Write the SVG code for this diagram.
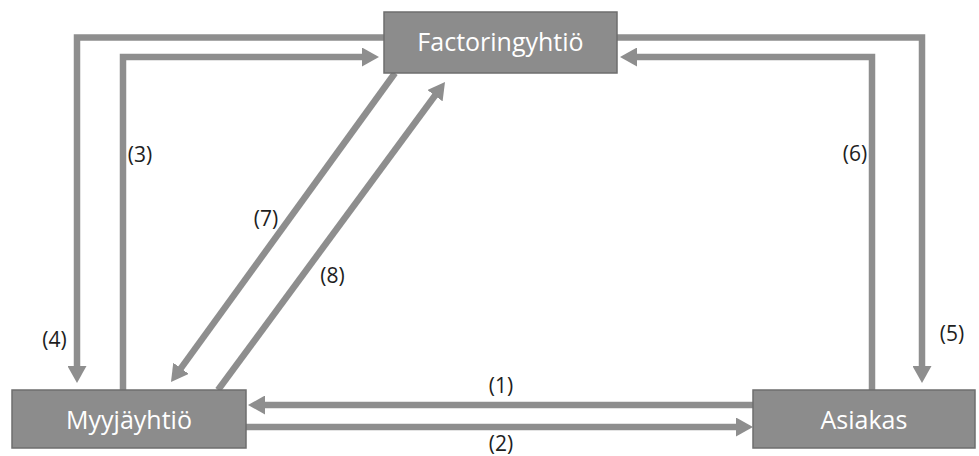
<svg xmlns="http://www.w3.org/2000/svg" width="979" height="456" viewBox="0 0 979 456">
  <style>
    .node rect { fill: #8c8c8c; stroke: #6e6e6e; stroke-width: 1.5; }
    .node text { font-family: "Open Sans", "Liberation Sans", sans-serif; font-size: 25px; fill: #ffffff; text-anchor: middle; }
    .conn { fill: none; stroke: #8e8e8e; stroke-width: 6.5; stroke-linejoin: miter; marker-end: url(#arrow); }
    .lbl { font-family: "Open Sans", "Liberation Sans", sans-serif; font-size: 21px; fill: #1e1e1e; text-anchor: middle; }
  </style>
  <defs>
    <marker id="arrow" viewBox="0 0 17 19" refX="3" refY="9.5" markerWidth="17" markerHeight="19" markerUnits="userSpaceOnUse" orient="auto">
      <path d="M0,0 L17,9.5 L0,19 Z" fill="#8e8e8e"/>
    </marker>
  </defs>

  <g id="connectors">
    <path class="conn" d="M753,405 H262"/>
    <path class="conn" d="M246,427 H739"/>
    <path class="conn" d="M123,390 V57 H365"/>
    <path class="conn" d="M384,37.5 H77 V369"/>
    <path class="conn" d="M617,37.5 H922 V369"/>
    <path class="conn" d="M872,390 V57 H634"/>
    <path class="conn" d="M395,73 L179.2,370.7"/>
    <path class="conn" d="M218,390 L436.7,93.3"/>
  </g>

  <g id="labels">
    <text class="lbl" x="501" y="392.5">(1)</text>
    <text class="lbl" x="501" y="451">(2)</text>
    <text class="lbl" x="140" y="162">(3)</text>
    <text class="lbl" x="54.5" y="347">(4)</text>
    <text class="lbl" x="952" y="340.5">(5)</text>
    <text class="lbl" x="855" y="160.5">(6)</text>
    <text class="lbl" x="266" y="225.5">(7)</text>
    <text class="lbl" x="332.5" y="283">(8)</text>
  </g>

  <g id="factoringyhtio" class="node">
    <rect x="384" y="12" width="233" height="61"/>
    <text x="500.5" y="51">Factoringyhtiö</text>
  </g>
  <g id="myyjayhtio" class="node">
    <rect x="12" y="390" width="234" height="58"/>
    <text x="129" y="429">Myyjäyhtiö</text>
  </g>
  <g id="asiakas" class="node">
    <rect x="753" y="390" width="222" height="58"/>
    <text x="864" y="429">Asiakas</text>
  </g>
</svg>
